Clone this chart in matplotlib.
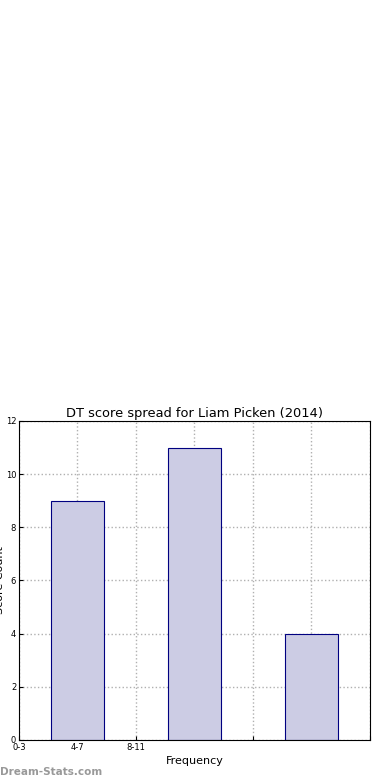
import matplotlib
matplotlib.use("Agg")
import matplotlib.pyplot as plt

# score bins and counts
bins = ["0-3", "4-7", "8-11"]
bar_pos = [1, 3, 5]
counts = [9, 11, 4]

fig = plt.figure(figsize=(3.9, 7.8), dpi=100)
ax = fig.add_axes([0.0487, 0.0513, 0.9, 0.409])

ax.bar(bar_pos, counts, width=0.9, color="#ccccе4".replace("е", "e"),
       edgecolor="#000080", linewidth=0.8, zorder=2)

ax.set_xlim(0, 6)
ax.set_ylim(0, 12)
ax.set_xticks(range(7))
ax.set_xticklabels(bins + [""] * 4, fontsize=6)
ax.set_yticks(range(0, 13, 2))
ax.set_yticklabels([str(v) for v in range(0, 13, 2)], fontsize=6)
ax.tick_params(direction="in", length=3, pad=2)
ax.grid(True, linestyle=":", color="#b0b0b0", linewidth=1.0, zorder=3)

ax.set_title("DT score spread for Liam Picken (2014)", fontsize=9.4, pad=3)
ax.set_xlabel("Frequency", fontsize=8, labelpad=3)
ax.set_ylabel("Score Count", fontsize=8)
ax.yaxis.set_label_coords(-0.04, 0.5)

fig.text(0.0, 0.004, "Dream-Stats.com", fontsize=7.5, color="#999999",
         fontweight="bold", ha="left", va="bottom")

fig.savefig("out.png", dpi=100)
